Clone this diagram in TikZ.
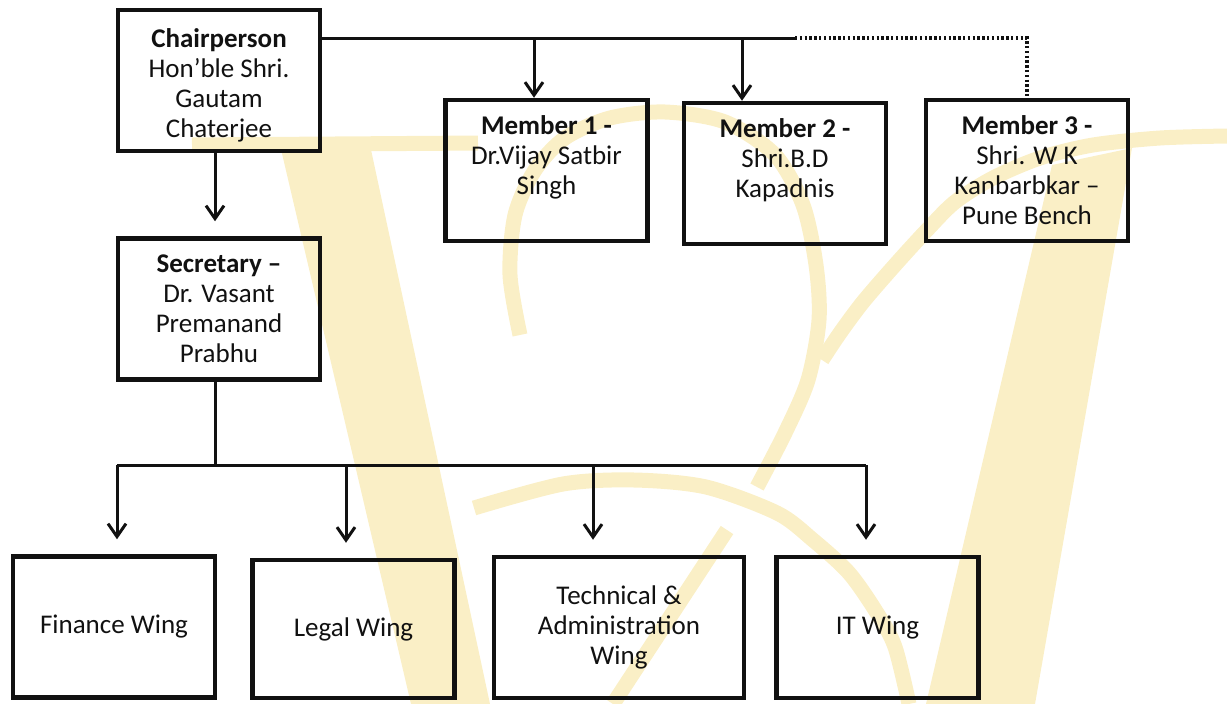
\documentclass[tikz,border=0pt]{standalone}
\usepackage{fontspec}
\setmainfont{Carlito}
\usetikzlibrary{arrows.meta}
\newcommand{\Unit}{1pt}
\newcommand{\Edge}{4.5pt}
\newcommand{\Wire}{3pt}
\newcommand{\Stroke}{15pt}
\newcommand{\BoxW}{202pt}
\newcommand{\BoxH}{141pt}
\definecolor{wash}{HTML}{FAEFC6}
\definecolor{ink}{HTML}{111111}

\begin{document}
\begin{tikzpicture}[x=\Unit,y=-\Unit,
  orgbox/.style={draw=ink, line width=\Edge, minimum width=\BoxW, minimum height=\BoxH,
    inner sep=2pt, align=center, text=ink, font=\fontsize{27}{30}\selectfont},
  link/.style={draw=ink, line width=\Wire},
  drop/.style={link, -{Straight Barb[length=13pt,width=18pt]}},
  dotlink/.style={link, line width=3.2pt, dash pattern=on 2.4pt off 2.4pt}]

  \useasboundingbox (0,0) rectangle (1227,704);

  % ---- watermark ----------------------------------------------------------
  % The faded letter behind the chart, kept loose on purpose.
  \fill[wash] (280,145) -- (370,145) -- (490,704) -- (411,704) -- cycle;
  \fill[wash] (1052,165) -- (1132,148) -- (1035,704) -- (926,704) -- cycle;
  \draw[wash, line width=\Stroke] (192,145) -- (478,143);
  \draw[wash, line width=\Stroke] plot[smooth] coordinates {(520,335) (510,275) (515,215)
    (535,170) (565,138) (610,118) (665,112) (725,122) (775,155) (803,205) (816,265)
    (819,320) (808,380) (785,433) (757,487)};
  \draw[wash, line width=\Stroke] plot[smooth] coordinates {(1227,136) (1160,138)
    (1093,145) (1040,158) (993,178) (955,202) (927,230) (895,265) (863,302) (840,333) (822,360)};
  \draw[wash, line width=\Stroke] plot[smooth] coordinates {(474,508) (563,484) (634,480)
    (706,487) (777,513) (813,540) (849,573) (877,613) (895,647) (909,704)};
  \draw[wash, line width=\Stroke] (727,530) -- (613,704);

  % ---- boxes --------------------------------------------------------------
  \node[orgbox] (chair) at (219,80.5) {\mbox{}\\[-2pt]\textbf{Chairperson}\\Hon’ble Shri.\\Gautam\\Chaterjee};
  \node[orgbox] (sec) at (219,309) {\textbf{Secretary –}\\Dr. Vasant\\Premanand\\Prabhu};
  \node[orgbox] (m1) at (546.5,170.5) {\textbf{Member 1 -}\\Dr.Vijay Satbir\\Singh\\\mbox{}};
  \node[orgbox] (m2) at (785,173.5) {\textbf{Member 2 -}\\Shri.B.D\\Kapadnis\\\mbox{}};
  \node[orgbox] (m3) at (1027,170.5) {\textbf{Member 3 -}\\Shri. W K\\Kanbarbkar –\\Pune Bench};
  \node[orgbox] (fin) at (114,627) {Finance Wing};
  \node[orgbox, minimum height=138pt] (legal) at (353.5,629) {Legal Wing};
  \node[orgbox, minimum width=250pt] (tech) at (619,627.5) {Technical \&\\Administration\\Wing};
  \node[orgbox] (it) at (877.5,627.5) {IT Wing};

  % ---- chairperson to members ---------------------------------------------
  \coordinate (topbus) at (795,38);
  \draw[link] (chair.east |- topbus) -- (topbus);
  \draw[dotlink] (topbus) -- (m3.north |- topbus) -- (m3.north);
  \draw[drop] ([xshift=-12.5]m1.north |- topbus) -- ([xshift=-12.5]m1.north);
  \draw[drop] ([xshift=-43]m2.north |- topbus) -- ([xshift=-43]m2.north);

  % ---- chairperson to secretary -------------------------------------------
  \draw[drop, shorten >=15pt] ([xshift=-4]chair.south) -- ([xshift=-4]sec.north);

  % ---- secretary to wings -------------------------------------------------
  \coordinate (lowbus) at (215,465);
  \draw[link] ([xshift=-4]sec.south) -- (lowbus);
  \draw[link] ([xshift=3]fin.north |- lowbus) -- ([xshift=-11.5]it.north |- lowbus);
  \foreach \w/\dx in {fin/3, legal/-7.5, tech/-26, it/-11.5} {
    \draw[drop, shorten >=15pt] ([xshift=\dx]\w.north |- lowbus) -- ([xshift=\dx]\w.north);
  }

\end{tikzpicture}
\end{document}
